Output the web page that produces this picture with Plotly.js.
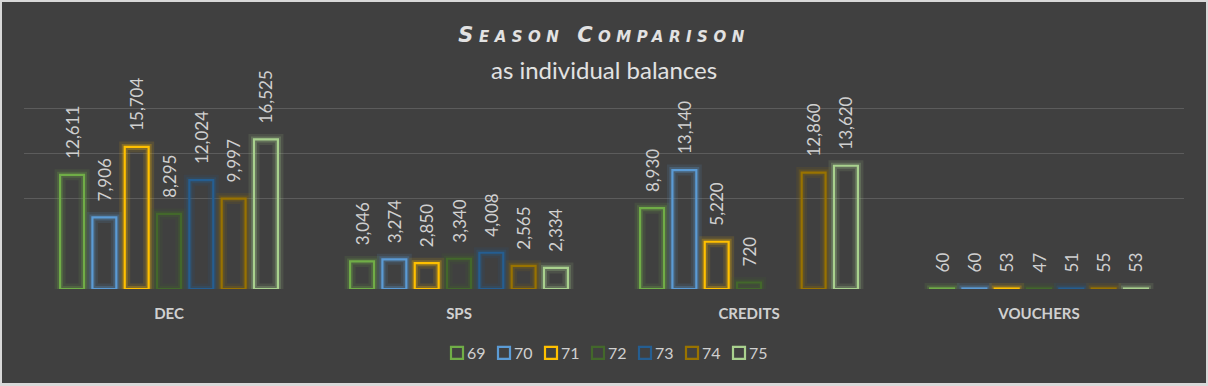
<!DOCTYPE html>
<html>
<head>
<meta charset="utf-8">
<script src="https://cdn.plot.ly/plotly-3.0.1.min.js"></script>
<style>
  html, body { margin: 0; padding: 0; background: #d9d9d9; width: 1208px; height: 386px; overflow: hidden; }
  #chart { position: absolute; left: 2px; top: 2px; width: 1204px; height: 381px; }
</style>
</head>
<body>
<div id="chart"></div>
<script>
const categories = ['DEC', 'SPS', 'CREDITS', 'VOUCHERS'];
const seasons = ['69', '70', '71', '72', '73', '74', '75'];
const s69 = [12611, 3046, 8930, 60];
const s70 = [7906, 3274, 13140, 60];
const s71 = [15704, 2850, 5220, 53];
const s72 = [8295, 3340, 720, 47];
const s73 = [12024, 4008, null, 51];
const s74 = [9997, 2565, 12860, 55];
const s75 = [16525, 2334, 13620, 53];
const seriesValues = [s69, s70, s71, s72, s73, s74, s75];
const colors = ['#70AD47', '#5B9BD5', '#FFC000', '#43682B', '#255E91', '#997300', '#A9D18E'];

function rgba(hex, a) {
  const n = parseInt(hex.slice(1), 16);
  return 'rgba(' + ((n >> 16) & 255) + ',' + ((n >> 8) & 255) + ',' + (n & 255) + ',' + a + ')';
}

const labelFont = 'Lato, "Open Sans", sans-serif';
const traces = [];
seasons.forEach((s, i) => {
  // soft outer glow
  traces.push({
    type: 'bar', x: categories, y: seriesValues[i], offsetgroup: 'g' + s,
    marker: { color: 'rgba(0,0,0,0)', line: { color: rgba(colors[i], 0.12), width: 11 } },
    showlegend: false, hoverinfo: 'skip'
  });
  // inner glow
  traces.push({
    type: 'bar', x: categories, y: seriesValues[i], offsetgroup: 'g' + s,
    marker: { color: 'rgba(0,0,0,0)', line: { color: rgba(colors[i], 0.25), width: 6 } },
    showlegend: false, hoverinfo: 'skip'
  });
  // main
  traces.push({
    type: 'bar', name: s, x: categories, y: seriesValues[i], offsetgroup: 'g' + s,
    marker: { color: 'rgba(0,0,0,0)', line: { color: colors[i], width: 2.2 } },
    texttemplate: '\u00a0\u00a0\u00a0%{y:,}',
    textposition: 'outside', textangle: -90, constraintext: 'none', cliponaxis: false,
    outsidetextfont: { family: labelFont, size: 17, color: '#d0d0d0' }
  });
});

const plotTop = 104, plotBottom = 287;   // in div px
const gridTopPx = 106;                    // where 20000 sits
const yMax = 20000 * (plotBottom - plotTop) / (plotBottom - gridTopPx);
const plotH = plotBottom - plotTop;

const layout = {
  width: 1204, height: 381,
  paper_bgcolor: '#404040', plot_bgcolor: '#404040',
  margin: { l: 22, r: 22, t: plotTop, b: 381 - plotBottom },
  barmode: 'group', bargap: 0.22, bargroupgap: 0.26,
  title: {
    text: '<span style="letter-spacing:5.5px">Season Comparison</span>',
    font: { family: '"DejaVu Sans", sans-serif', size: 21, weight: 700, style: 'italic', variant: 'small-caps', color: '#e2e2e2' },
    x: 0.5, xanchor: 'center', xref: 'paper', y: 1 - 33 / 381, yref: 'container', yanchor: 'middle'
  },
  annotations: [{
    text: 'as individual balances', xref: 'paper', yref: 'paper', x: 0.5, y: (plotBottom - 67) / plotH,
    xanchor: 'center', yanchor: 'middle', showarrow: false,
    font: { family: labelFont, size: 24, color: '#e2e2e2' }
  }],
  xaxis: {
    type: 'category', showgrid: false, zeroline: false, showline: false, ticks: '',
    ticklabelstandoff: 14,
    tickfont: { family: labelFont, size: 15, weight: 700, color: '#d0d0d0' }
  },
  yaxis: {
    range: [0, yMax], tickvals: [10000, 15000, 20000], showticklabels: false,
    gridcolor: '#5c5c5c', gridwidth: 1, zeroline: false, showline: false
  },
  legend: {
    orientation: 'h', x: 0.5 - 12.5 / 1160, xanchor: 'center', y: (plotBottom - 351) / plotH, yanchor: 'middle',
    font: { family: labelFont, size: 16, color: '#d0d0d0' }, bgcolor: 'rgba(0,0,0,0)',
    traceorder: 'normal', entrywidth: 2, entrywidthmode: 'pixels'
  },
  showlegend: true
};

Plotly.newPlot('chart', traces, layout, { displayModeBar: false, staticPlot: true }).then(gd => {
  // pull legend symbols right, next to their labels
  gd.querySelectorAll('.legend .traces .legendsymbols').forEach(g => {
    g.setAttribute('transform', 'translate(10,0)');
  });
  // let the last legend label show in full
  gd.querySelectorAll('.legend [clip-path]').forEach(e => e.removeAttribute('clip-path'));
});
</script>
</body>
</html>
